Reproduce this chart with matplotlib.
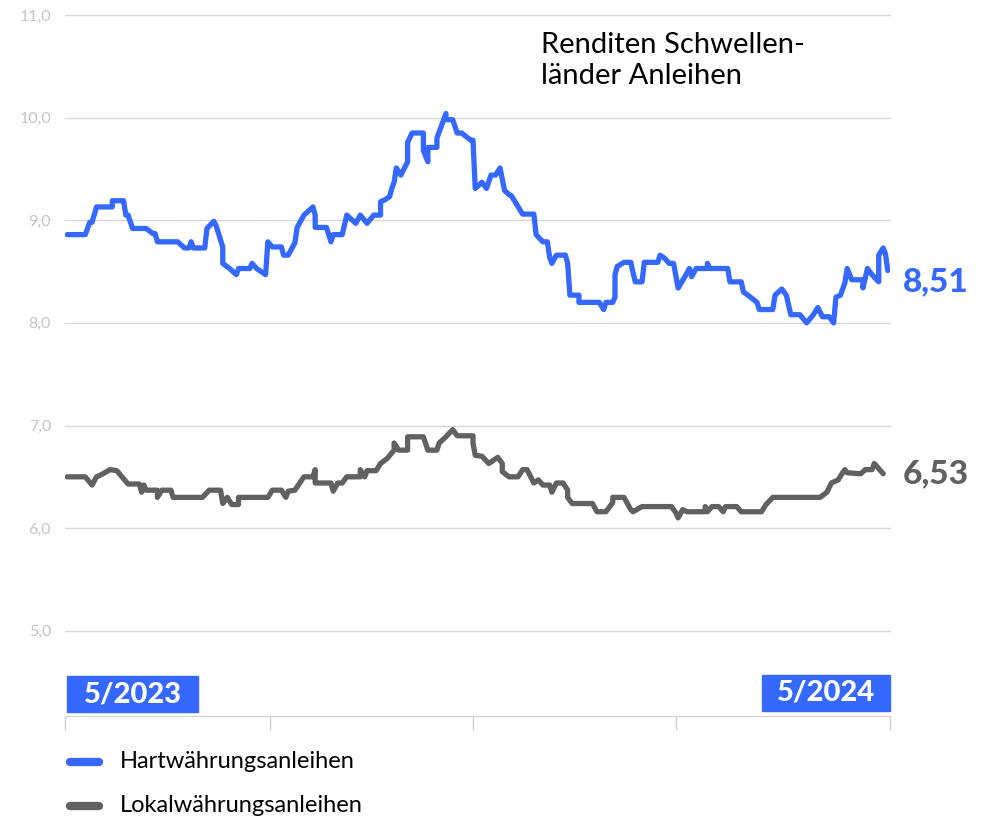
import pandas as pd
import matplotlib
matplotlib.use("Agg")
import matplotlib.pyplot as plt
from matplotlib.patches import Rectangle
from matplotlib.lines import Line2D

plt.rcParams["font.family"] = ["Lato", "DejaVu Sans"]

# Renditen (Tage seit 1.5.2023, Rendite in %)
start_date = "2023-05-01"
end_date = "2024-05-01"

hard_days = [1, 9, 11, 12, 14, 21, 21, 26, 27, 28, 30, 36, 39, 40, 41, 50, 53, 55, 56, 57,
             62, 63, 66, 67, 70, 70, 73, 76, 77, 82, 83, 85, 89, 90, 92, 96, 97, 99, 102, 103,
             106, 110, 111, 111, 116, 118, 119, 123, 125, 129, 131, 134, 137, 140, 140, 142, 144, 145, 146, 147,
             149, 152, 152, 154, 159, 159, 161, 161, 165, 165, 169, 169, 172, 174, 176, 180, 181, 182, 185, 187,
             189, 191, 193, 195, 197, 198, 203, 208, 209, 212, 214, 215, 216, 218, 222, 223, 224, 228, 228, 237,
             239, 240, 243, 244, 244, 245, 248, 251, 252, 253, 256, 257, 263, 264, 266, 268, 270, 272, 275, 277,
             278, 280, 285, 285, 286, 294, 295, 300, 301, 303, 307, 308, 314, 315, 318, 320, 322, 326, 329, 332,
             334, 336, 339, 341, 342, 344, 346, 347, 349, 354, 354, 356, 358, 361, 361, 363, 364, 365]
hard_values = [8.86, 8.86, 8.98, 8.98, 9.13, 9.13, 9.19, 9.19, 9.05, 9.05, 8.92, 8.92, 8.87, 8.87, 8.79, 8.79, 8.73, 8.73, 8.79, 8.73,
               8.73, 8.92, 8.99, 8.95, 8.74, 8.58, 8.53, 8.47, 8.53, 8.53, 8.58, 8.53, 8.47, 8.79, 8.74, 8.74, 8.66, 8.66, 8.78, 8.93,
               9.05, 9.13, 9.05, 8.93, 8.93, 8.79, 8.86, 8.86, 9.05, 8.97, 9.05, 8.97, 9.05, 9.05, 9.18, 9.20, 9.23, 9.31, 9.37, 9.51,
               9.44, 9.57, 9.76, 9.85, 9.85, 9.68, 9.57, 9.71, 9.71, 9.80, 10.04, 9.98, 9.98, 9.85, 9.85, 9.78, 9.78, 9.31, 9.37, 9.31,
               9.44, 9.44, 9.51, 9.29, 9.25, 9.24, 9.06, 9.06, 8.86, 8.79, 8.79, 8.64, 8.58, 8.66, 8.66, 8.58, 8.27, 8.27, 8.20, 8.20,
               8.13, 8.20, 8.20, 8.25, 8.47, 8.55, 8.59, 8.59, 8.49, 8.40, 8.40, 8.59, 8.59, 8.66, 8.63, 8.58, 8.58, 8.34, 8.45, 8.53,
               8.45, 8.53, 8.53, 8.58, 8.53, 8.53, 8.40, 8.40, 8.30, 8.27, 8.20, 8.13, 8.13, 8.27, 8.33, 8.27, 8.08, 8.08, 8.00, 8.08,
               8.15, 8.06, 8.06, 8.00, 8.25, 8.27, 8.39, 8.53, 8.42, 8.42, 8.34, 8.53, 8.47, 8.40, 8.66, 8.73, 8.67, 8.51]

local_days = [1, 9, 12, 14, 16, 20, 23, 28, 33, 34, 35, 36, 41, 41, 43, 47, 48, 61, 64, 69,
              70, 72, 74, 77, 77, 90, 92, 96, 98, 99, 102, 106, 110, 111, 111, 118, 119, 121, 123, 125,
              131, 131, 133, 134, 138, 140, 143, 146, 146, 148, 152, 152, 159, 161, 165, 166, 169, 172, 174, 181,
              181, 182, 185, 188, 192, 194, 194, 197, 201, 203, 205, 208, 210, 212, 215, 216, 218, 221, 223, 223,
              225, 234, 236, 240, 243, 243, 248, 251, 252, 256, 269, 271, 272, 274, 276, 284, 284, 285, 287, 290,
              292, 293, 298, 300, 309, 311, 314, 335, 338, 340, 343, 345, 346, 347, 353, 355, 358, 359, 361, 363]
local_values = [6.50, 6.50, 6.42, 6.50, 6.52, 6.57, 6.56, 6.43, 6.43, 6.35, 6.42, 6.37, 6.37, 6.30, 6.37, 6.37, 6.30, 6.30, 6.37, 6.37,
                6.24, 6.30, 6.23, 6.23, 6.30, 6.30, 6.37, 6.37, 6.30, 6.36, 6.37, 6.50, 6.50, 6.57, 6.44, 6.44, 6.36, 6.44, 6.44, 6.50,
                6.50, 6.57, 6.50, 6.56, 6.56, 6.63, 6.68, 6.76, 6.83, 6.76, 6.76, 6.89, 6.89, 6.76, 6.76, 6.83, 6.89, 6.96, 6.90, 6.90,
                6.83, 6.71, 6.70, 6.63, 6.69, 6.63, 6.55, 6.50, 6.50, 6.57, 6.57, 6.44, 6.47, 6.42, 6.42, 6.35, 6.44, 6.44, 6.37, 6.30,
                6.24, 6.24, 6.16, 6.16, 6.25, 6.30, 6.30, 6.18, 6.16, 6.21, 6.21, 6.15, 6.10, 6.18, 6.16, 6.16, 6.21, 6.16, 6.21, 6.21,
                6.16, 6.21, 6.21, 6.16, 6.16, 6.23, 6.30, 6.30, 6.35, 6.44, 6.47, 6.54, 6.57, 6.54, 6.53, 6.57, 6.57, 6.63, 6.58, 6.53]

y_ticks = [5, 6, 7, 8, 9, 10, 11]
x_ticks = ["2023-05-01", "2023-07-31", "2023-10-29", "2024-01-27", "2024-05-01"]
period_labels = ["5/2023", "5/2024"]
series_names = ["Hartwährungsanleihen", "Lokalwährungsanleihen"]
title = "Renditen Schwellen-\nländer Anleihen"

blue = "#3568ff"
grey = "#616161"


def to_dates(days):
    return pd.Timestamp(start_date) + pd.to_timedelta(days, unit="D")


fig = plt.figure(figsize=(9.89, 8.19), dpi=100)
ax = fig.add_axes([0.0657, 0.1258, 0.8342, 0.8559])

hard_dates = to_dates(hard_days)
local_dates = to_dates(local_days)
for dates, values, col in [(hard_dates, hard_values, blue), (local_dates, local_values, grey)]:
    ax.plot(dates, values, color=col, lw=3.8, solid_joinstyle="round", solid_capstyle="round", zorder=3)

ax.set_xlim(pd.Timestamp(start_date), pd.Timestamp(end_date))
ax.set_ylim(4.17, 11.0)
ax.set_yticks(y_ticks)
ax.set_yticklabels([f"{v:.1f}".replace(".", ",") for v in y_ticks], color="#c4c4c4", fontsize=11.5)
ax.yaxis.grid(True, color="#d8d8d8", lw=1)
ax.tick_params(axis="y", length=0, pad=10)
for gl in ax.get_ygridlines():
    gl.set_clip_on(False)

ax.set_xticks(pd.to_datetime(x_ticks))
ax.set_xticklabels([])
ax.tick_params(axis="x", length=10, color="#d0d0d0", width=1)

for s in ["left", "right", "top"]:
    ax.spines[s].set_visible(False)
ax.spines["bottom"].set_color("#d0d0d0")

# Endwerte
ax.annotate(f"{hard_values[-1]:.2f}".replace(".", ","), (hard_dates[-1], hard_values[-1]),
            xytext=(11, -8), textcoords="offset points", ha="left", va="center",
            color=blue, fontsize=24, fontweight="black", annotation_clip=False)
ax.annotate(f"{local_values[-1]:.2f}".replace(".", ","), (local_dates[-1], local_values[-1]),
            xytext=(14, 0), textcoords="offset points", ha="left", va="center",
            color=grey, fontsize=24, fontweight="black", annotation_clip=False)

# Titel
fig.text(541 / 989, 1 - 32 / 819, title, ha="left", va="top", fontsize=21, linespacing=1.25, color="black")

# Zeitraum-Boxen
boxes = [(67, 676, 131), (762, 675, 128)]
for (bx, by, bw), label in zip(boxes, period_labels):
    fig.patches.append(Rectangle((bx / 989, 1 - (by + 36) / 819), bw / 989, 36 / 819,
                                 transform=fig.transFigure, color=blue, zorder=1))
    fig.text((bx + bw / 2) / 989, 1 - (by + 18) / 819, label, ha="center", va="center",
             color="white", fontsize=21, fontweight="black", zorder=2)

# Legende
for i, (name, col) in enumerate(zip(series_names, [blue, grey])):
    yy = 1 - (762 + 44 * i) / 819
    fig.add_artist(Line2D([70 / 989, 99 / 989], [yy, yy], color=col, lw=6, solid_capstyle="round",
                          transform=fig.transFigure))
    fig.text(120 / 989, yy, name, ha="left", va="center", fontsize=17, color="black")

fig.savefig("out.png", dpi=100)
